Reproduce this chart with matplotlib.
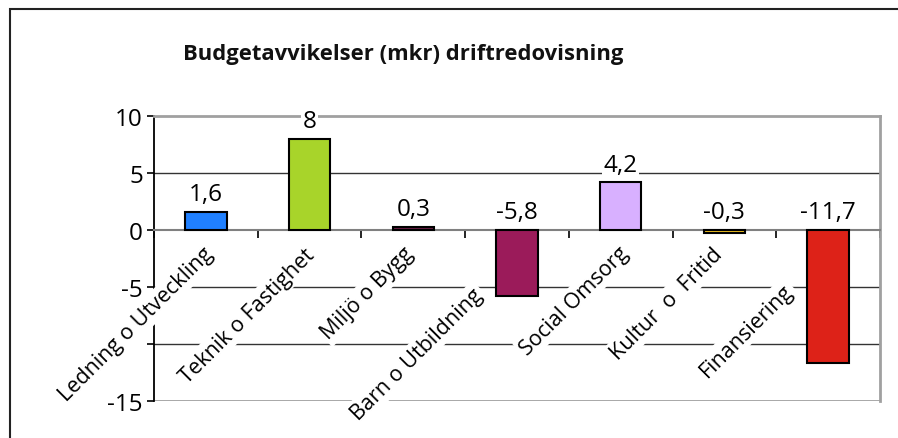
import matplotlib
matplotlib.use("Agg")
from matplotlib import pyplot as plt
from matplotlib.patches import Rectangle
import numpy as np

plt.rcParams['font.family'] = ['Open Sans', 'DejaVu Sans']

title = "Budgetavvikelser (mkr) driftredovisning"
categories = ["Ledning o Utveckling", "Teknik o Fastighet", "Miljö o Bygg",
              "Barn o Utbildning", "Social Omsorg", "Kultur  o  Fritid",
              "Finansiering"]
values = [1.6, 8, 0.3, -5.8, 4.2, -0.3, -11.7]
value_labels = ["1,6", "8", "0,3", "-5,8", "4,2", "-0,3", "-11,7"]
colors = ["#2080ff", "#a8d42a", "#6b1d45", "#9b1b5a", "#d8b0ff", "#f0c020", "#dd2218"]
y_ticks = [10, 5, 0, -5, -10, -15]
y_tick_labels = ["10", "5", "0", "-5", "", "-15"]  # -10 is hidden in the original

# label placement (offset of label end from the category centre, in pixels)
label_shift = [(-3, -13), (-6, -14), (-10, -13), (-45, -54), (-3, -12), (-12, -13), (-46, -50)]

fig = plt.figure(figsize=(8.98, 4.39), dpi=100)
fig.patches.append(Rectangle((10 / 898, -0.1), 1.1, 1 - 10 / 439 + 0.1,
                             transform=fig.transFigure, fill=False,
                             edgecolor="#222222", linewidth=1.5))
fig.text(183 / 898, 1 - 60 / 439, title, fontsize=15.8, fontweight="bold",
         color="#111111", ha="left", va="baseline")

ax = fig.add_axes([154 / 898, 1 - 402 / 439, 726 / 898, 285 / 439])
x = np.arange(len(values))
ax.bar(x, values, width=0.4, color=colors, edgecolor="black", linewidth=1.5, zorder=3)

ax.set_xlim(-0.5, len(values) - 0.5)
ax.set_ylim(-15, 10)
ax.set_yticks(y_ticks)
ax.set_yticklabels(y_tick_labels, fontsize=17.5)
for t in [5, -5, -10]:
    ax.axhline(t, color="#333333", linewidth=1, zorder=1)
ax.axhline(-15, color="#a0a0a0", linewidth=2, zorder=1)

ax.spines['bottom'].set_position(('data', 0))
ax.spines['bottom'].set_color("#808080")
ax.spines['bottom'].set_linewidth(1.5)
ax.spines['top'].set_color("#a0a0a0")
ax.spines['top'].set_linewidth(2)
ax.spines['right'].set_color("#a0a0a0")
ax.spines['right'].set_linewidth(2)
ax.spines['left'].set_linewidth(1.3)
ax.set_xticks(np.arange(-0.5, len(values), 1))
ax.set_xticklabels([])
ax.tick_params(axis='x', direction='out', length=6, width=1.2, color="black")
ax.tick_params(axis='y', direction='out', length=5, width=1.2, pad=3)

for i, (v, lab) in enumerate(zip(values, value_labels)):
    ax.annotate(lab, xy=(i, max(v, 0)), xytext=(0, 4), textcoords="offset points",
                ha="center", va="bottom", fontsize=17.5, zorder=4,
                bbox=dict(facecolor="white", edgecolor="none", pad=1))

for i, (cat, (dx, dy)) in enumerate(zip(categories, label_shift)):
    ax.annotate(cat, xy=(i, 0), xytext=(dx * 0.72, dy * 0.72), textcoords="offset points",
                ha="right", va="top", rotation=45, rotation_mode="anchor",
                fontsize=15.5, zorder=2.7, annotation_clip=False,
                bbox=dict(facecolor="white", edgecolor="none", boxstyle="square,pad=0.12"))

fig.savefig("out.png", dpi=100)
